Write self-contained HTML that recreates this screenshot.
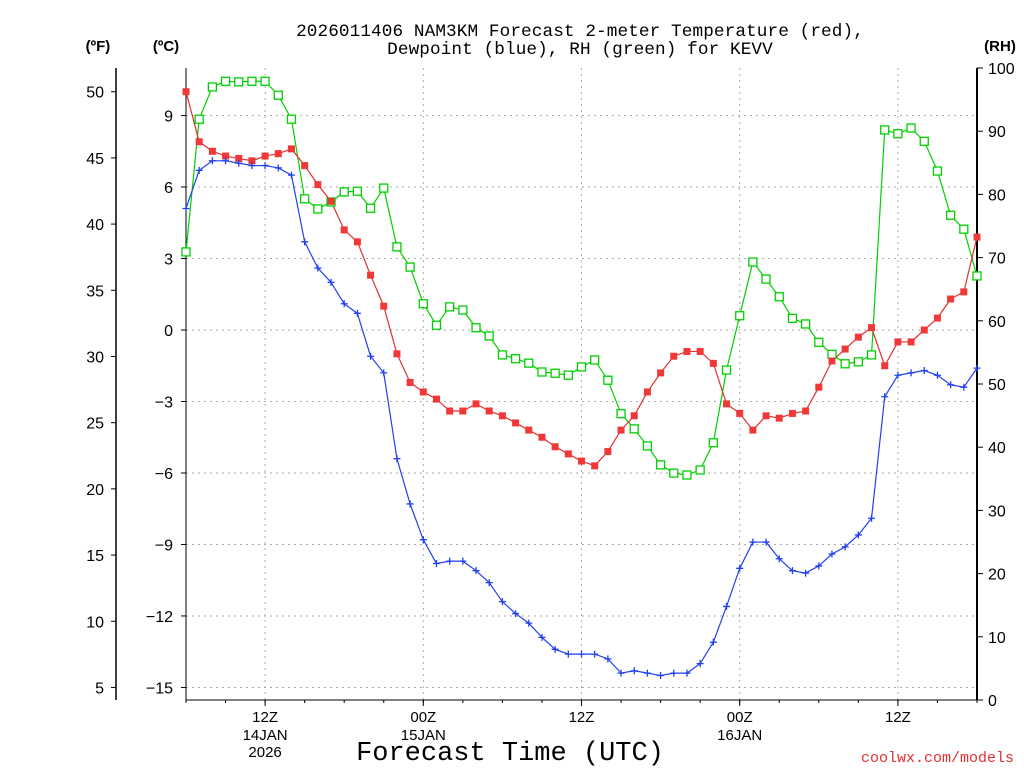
<!DOCTYPE html>
<html><head><meta charset="utf-8">
<style>
body{margin:0;background:#fff;}
svg{display:block;font-family:"Liberation Sans",sans-serif;}
</style></head>
<body>
<svg id="chart" width="1024" height="768" viewBox="0 0 1024 768">
<rect width="1024" height="768" fill="#fff"/>
<text x="580" y="36" text-anchor="middle" font-size="17.7" letter-spacing="0.1" font-family="Liberation Mono, monospace">2026011406 NAM3KM Forecast 2-meter Temperature (red),</text>
<text x="580" y="54" text-anchor="middle" font-size="17.7" letter-spacing="0.1" font-family="Liberation Mono, monospace">Dewpoint (blue), RH (green) for KEVV</text>
<text x="98" y="51" text-anchor="middle" font-size="15" font-weight="bold">(ºF)</text>
<text x="166" y="51" text-anchor="middle" font-size="15" font-weight="bold">(ºC)</text>
<text x="1000" y="51" text-anchor="middle" font-size="15" font-weight="bold">(RH)</text>
<g id="grid"></g>
<g id="axes"></g>
<g id="series"></g>
<text x="510" y="760" text-anchor="middle" font-size="27" font-family="Liberation Mono, monospace">Forecast Time (UTC)</text>
<text x="1014" y="762" text-anchor="end" font-size="15" fill="#e53030" font-family="Liberation Mono, monospace">coolwx.com/models</text>
</svg>
<script>
const hours=[...Array(61).keys()];
const tempC=[10.0,7.9,7.5,7.3,7.2,7.1,7.3,7.4,7.6,6.9,6.1,5.4,4.2,3.7,2.3,1.0,-1.0,-2.2,-2.6,-2.9,-3.4,-3.4,-3.1,-3.4,-3.6,-3.9,-4.2,-4.5,-4.9,-5.2,-5.5,-5.7,-5.1,-4.2,-3.6,-2.6,-1.8,-1.1,-0.9,-0.9,-1.4,-3.1,-3.5,-4.2,-3.6,-3.7,-3.5,-3.4,-2.4,-1.3,-0.8,-0.3,0.1,-1.5,-0.5,-0.5,0.0,0.5,1.3,1.6,3.9];
const dewC=[5.1,6.7,7.1,7.1,7.0,6.9,6.9,6.8,6.5,3.7,2.6,2.0,1.1,0.7,-1.1,-1.8,-5.4,-7.3,-8.8,-9.8,-9.7,-9.7,-10.1,-10.6,-11.4,-11.9,-12.3,-12.9,-13.4,-13.6,-13.6,-13.6,-13.8,-14.4,-14.3,-14.4,-14.5,-14.4,-14.4,-14.0,-13.1,-11.6,-10.0,-8.9,-8.9,-9.6,-10.1,-10.2,-9.9,-9.4,-9.1,-8.6,-7.9,-2.8,-1.9,-1.8,-1.7,-1.9,-2.3,-2.4,-1.6];
const rh=[70.9,91.9,97.0,97.9,97.8,97.9,97.9,95.7,91.9,79.3,77.7,78.8,80.4,80.5,77.8,81.0,71.7,68.5,62.7,59.3,62.2,61.7,58.9,57.6,54.6,54.0,53.3,51.9,51.7,51.4,52.7,53.8,50.6,45.3,42.9,40.2,37.2,35.9,35.6,36.4,40.7,52.2,60.8,69.3,66.6,63.8,60.4,59.5,56.6,54.7,53.2,53.5,54.6,90.2,89.6,90.5,88.4,83.7,76.7,74.5,67.1];
const cTicks=[9,6,3,0,-3,-6,-9,-12,-15];
const fTicks=[50,45,40,35,30,25,20,15,10,5];
const rhTicks=[0,10,20,30,40,50,60,70,80,90,100];
const xTickHours=[6,18,30,42,54];
const xTickLabels=["12Z","00Z","12Z","00Z","12Z"];
const xDateLabels=["14JAN","15JAN","","16JAN",""];
const xYearLabels=["2026","","","",""];

const L=186,R=977,B=700,T=68;
const x=h=>L+h*(R-L)/60;
const yC=c=>330-c*23.83;
const yF=f=>yC((f-32)*5/9);
const yRH=v=>B-v*(B-T)/100;
const NS="http://www.w3.org/2000/svg";
function mk(tag,parent,attrs){const e=document.createElementNS(NS,tag);for(const k in attrs)e.setAttribute(k,attrs[k]);parent.appendChild(e);return e;}
const grid=document.getElementById('grid'),axes=document.getElementById('axes'),ser=document.getElementById('series');
cTicks.forEach(c=>{
 const l=mk('line',grid,{x1:L,x2:R,y1:yC(c),y2:yC(c),stroke:'#aaa','stroke-dasharray':'2,4'});
 
 
 mk('line',axes,{x1:L-5,x2:L,y1:yC(c),y2:yC(c),stroke:'#000'});
 const t=mk('text',axes,{x:173,y:yC(c)+6,'text-anchor':'end','font-size':16});
 t.textContent=(c<0?'\u2212'+(-c):c);
 
 
});
xTickHours.forEach((h,i)=>{
 const l=mk('line',grid,{x1:x(h),x2:x(h),y1:T,y2:B,stroke:'#aaa','stroke-dasharray':'2,4'});
 
 
 mk('line',axes,{x1:x(h),x2:x(h),y1:B,y2:B+6,stroke:'#000'});
 [[xTickLabels[i],722],[xDateLabels[i],740],[xYearLabels[i],757]].forEach(([s,yy])=>{
  if(!s)return;
  const t=mk('text',axes,{x:x(h),y:yy,'text-anchor':'middle','font-size':15});
  t.textContent=s;
  
  
 });
});
for(let h=0;h<=60;h+=3)mk('line',axes,{x1:x(h),x2:x(h),y1:B,y2:B+3,stroke:'#000'});
mk('line',axes,{x1:116,x2:116,y1:T,y2:B,stroke:'#000','stroke-width':1.5});
fTicks.forEach(f=>{
 mk('line',axes,{x1:111,x2:116,y1:yF(f),y2:yF(f),stroke:'#000'});
 const t=mk('text',axes,{x:104,y:yF(f)+6,'text-anchor':'end','font-size':16});
 t.textContent=f;
 
 
});
rhTicks.forEach(v=>{
 mk('line',axes,{x1:R,x2:R+6,y1:yRH(v),y2:yRH(v),stroke:'#000'});
 const t=mk('text',axes,{x:988,y:yRH(v)+6,'font-size':16});
 t.textContent=v;
 
 
});
mk('line',axes,{x1:L,x2:L,y1:T,y2:B,stroke:'#000'});
mk('line',axes,{x1:L,x2:R,y1:B,y2:B,stroke:'#000'});
mk('line',axes,{x1:R,x2:R,y1:T,y2:B,stroke:'#000','stroke-width':2});

function line(vals,fy,color,name){
 const p=mk('polyline',ser,{points:vals.map((v,i)=>x(hours[i])+','+fy(v)).join(' '),fill:'none',stroke:color,'stroke-width':1.2});
 
 
}
line(rh,yRH,'#00d000','rh-line');
line(tempC,yC,'#e03030','temperature-line');
line(dewC,yC,'#2040f0','dewpoint-line');
rh.forEach((v,i)=>{
 const m=mk('rect',ser,{x:x(hours[i])-4,y:yRH(v)-4,width:8,height:8,fill:'#fff',stroke:'#00d000','stroke-width':1.3});
 
 
});
tempC.forEach((v,i)=>{
 const m=mk('rect',ser,{x:x(hours[i])-3.5,y:yC(v)-3.5,width:7,height:7,fill:'#f03838'});
 
 
});
dewC.forEach((v,i)=>{
 const cx=x(hours[i]),cy=yC(v);
 const m=mk('path',ser,{d:`M${cx-3.5},${cy}H${cx+3.5}M${cx},${cy-3.5}V${cy+3.5}`,stroke:'#2040f0','stroke-width':1.3});
 
 
});
</script>
</body></html>
